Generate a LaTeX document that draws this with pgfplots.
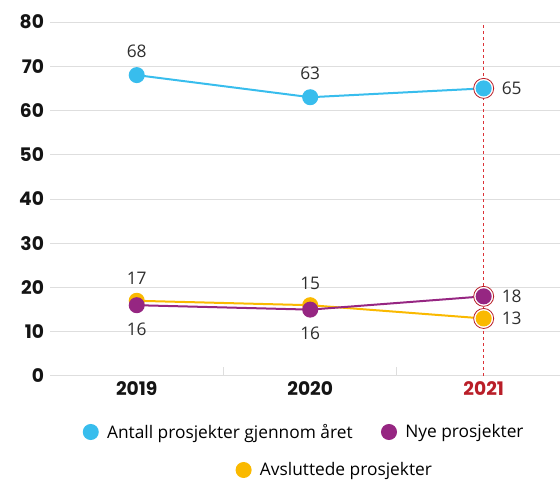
\documentclass[border=0pt]{standalone}
\usepackage{pgfplots}
\pgfplotsset{compat=1.18}
\usepackage{fontspec}
\setmainfont{Open Sans}
\newfontfamily\tickfont{Poppins}[BoldFont={Poppins Bold}]
\definecolor{cblue}{RGB}{56,189,237}
\definecolor{cpurple}{RGB}{150,38,130}
\definecolor{corange}{RGB}{250,185,0}
\definecolor{cred}{RGB}{185,30,40}
\definecolor{cdash}{RGB}{220,50,55}
\definecolor{cgrid}{RGB}{222,222,222}
\pgfplotsset{
  dotlegend/.style={legend image code/.code={\draw[##1, only marks] plot coordinates {(0.3em,0pt)};}},
  lbls/.style={nodes near coords, point meta=explicit symbolic,
    visualization depends on={value \thisrow{dx} \as \dx},
    visualization depends on={value \thisrow{dy} \as \dy},
    every node near coord/.append style={anchor=center, xshift=\dx pt, yshift=\dy pt,
      font=\fontsize{13}{14}\selectfont, text=black!82}},
}
\begin{document}
\begin{tikzpicture}
\useasboundingbox (-37.5pt,-78.75pt) rectangle (382.5pt,282pt);
\begin{axis}[at={(0,0)}, anchor=south west, scale only axis,
  width=382.5pt, height=265.5pt, clip=false,
  xmin=-0.5, xmax=2.44, ymin=0, ymax=80,
  ytick={0,10,...,80},
  xtick={0,1,2},
  xticklabels={2019,2020,\textcolor{cred}{2021}},
  minor xtick={0.5,1.5},
  major x tick style={draw=none},
  minor x tick style={draw=cgrid, line width=0.75pt},
  minor tick length=6.75pt,
  tick align=inside,
  ytick style={draw=none},
  ymajorgrids, grid style={cgrid, line width=0.75pt},
  axis x line*=bottom, axis y line*=left,
  x axis line style={draw=cgrid, line width=0.75pt, -},
  y axis line style={draw=none},
  /pgf/number format/assume math mode=true,
  ticklabel style={font=\tickfont\bfseries\fontsize{14}{14}\selectfont, text=black!92},
  yticklabel style={xshift=-1pt},
  xticklabel style={yshift=-1pt},
  legend style={draw=none, fill=none, at={(0.5,0)}, anchor=center, yshift=-42pt,
    font=\fontsize{13}{14}\selectfont, legend cell align=left,
    /tikz/every odd column/.append style={column sep=5pt},
    /tikz/every even column/.append style={column sep=20pt}},
  legend columns=2,
]
\addplot[draw=cdash, dash pattern=on 2.5pt off 2pt, line width=1.2pt, forget plot] coordinates {(2,0) (2,80)};
\addplot[only marks, mark=*, mark size=7.5pt, mark options={draw=cred, fill=white, line width=0.6pt}, forget plot]
  coordinates {(2,65) (2,18) (2,13)};
\addplot[cblue, line width=1.5pt, mark=*, mark size=5.25pt, mark options={draw=none, fill=cblue}, dotlegend, lbls]
  table[meta=lbl] {
x y lbl dx dy
0 68 68 0 18
1 63 63 0 18
2 65 65 21 0
};
\addlegendentry{Antall prosjekter gjennom året}
\addplot[corange, line width=1.5pt, mark=*, mark size=5.25pt, mark options={draw=none, fill=corange}, lbls, forget plot]
  table[meta=lbl] {
x y lbl dx dy
0 17 17 0 17
1 16 16 0 -21
2 13 13 21 0
};
\addplot[cpurple, line width=1.5pt, mark=*, mark size=5.25pt, mark options={draw=none, fill=cpurple}, dotlegend, lbls]
  table[meta=lbl] {
x y lbl dx dy
0 16 16 0 -18
1 15 15 0 19.5
2 18 18 21 0
};
\addlegendentry{Nye prosjekter}
\end{axis}
\begin{axis}[at={(0,0)}, anchor=south west, scale only axis,
  width=382.5pt, height=265.5pt, hide axis,
  xmin=0, xmax=1, ymin=0, ymax=1,
  legend style={draw=none, fill=none, at={(0.56,0)}, anchor=center, yshift=-70.5pt,
    font=\fontsize{13}{14}\selectfont, legend cell align=left,
    /tikz/every odd column/.append style={column sep=5pt}},
]
\addlegendimage{corange, line width=1.5pt, mark=*, mark size=5.25pt, mark options={draw=none, fill=corange}, dotlegend}
\addlegendentry{Avsluttede prosjekter}
\end{axis}
\end{tikzpicture}
\end{document}
